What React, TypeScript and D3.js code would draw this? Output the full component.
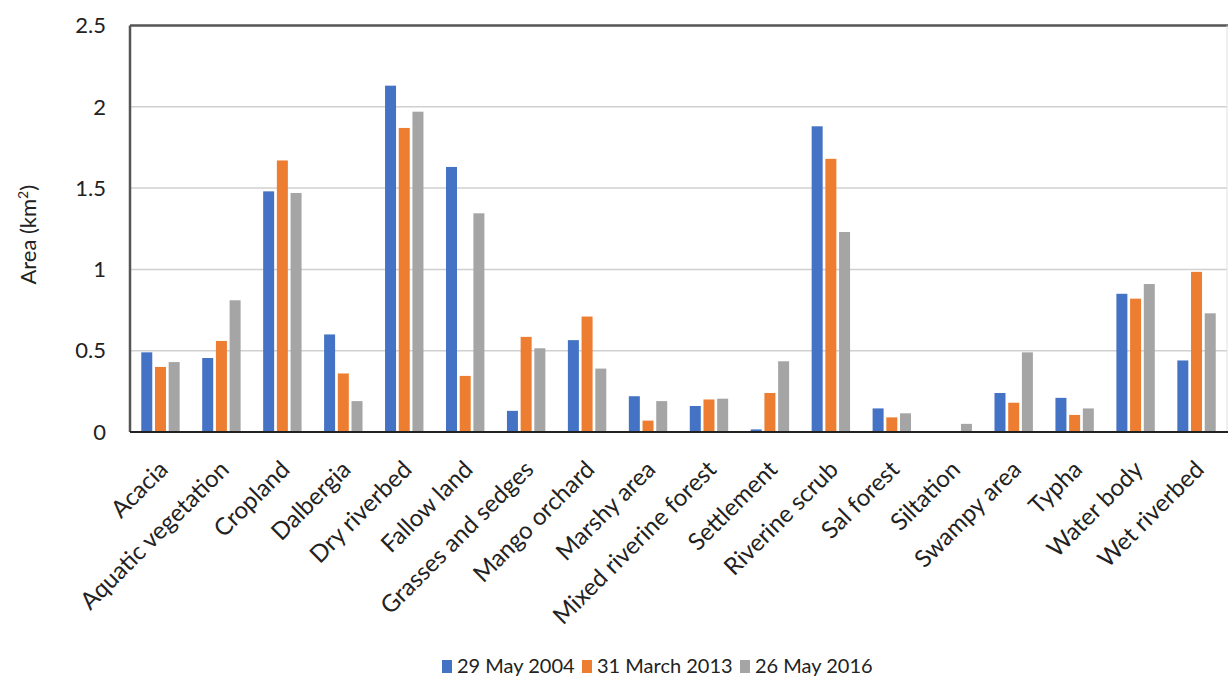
import React from "react";
import * as d3 from "d3";

const categories = [
  "Acacia", "Aquatic vegetation", "Cropland", "Dalbergia", "Dry riverbed",
  "Fallow land", "Grasses and sedges", "Mango orchard", "Marshy area",
  "Mixed riverine forest", "Settlement", "Riverine scrub", "Sal forest",
  "Siltation", "Swampy area", "Typha", "Water body", "Wet riverbed",
];
const seriesNames = ["29 May 2004", "31 March 2013", "26 May 2016"];
const may2004 = [0.49, 0.455, 1.48, 0.6, 2.13, 1.63, 0.13, 0.565, 0.22, 0.16, 0.016, 1.88, 0.145, 0, 0.24, 0.21, 0.85, 0.44];
const march2013 = [0.4, 0.56, 1.67, 0.36, 1.87, 0.345, 0.585, 0.71, 0.07, 0.2, 0.24, 1.68, 0.09, 0, 0.18, 0.105, 0.82, 0.985];
const may2016 = [0.43, 0.81, 1.47, 0.19, 1.97, 1.345, 0.515, 0.39, 0.19, 0.205, 0.435, 1.23, 0.115, 0.05, 0.49, 0.145, 0.91, 0.73];
const yTicks = [0, 0.5, 1, 1.5, 2, 2.5];
const colors = ["#4472C4", "#ED7D31", "#A5A5A5"];

const W = 1228;
const H = 689;
const FONT = "Lato, 'Open Sans', sans-serif";

export default function App() {
  const series = [may2004, march2013, may2016];
  const left = 130, right = 1227, top = 25.5, bottom = 432;
  const x = d3.scaleBand<string>().domain(categories).range([left, right]).paddingInner(0).paddingOuter(0);
  const y = d3.scaleLinear().domain([0, 2.5]).range([bottom, top]);
  const bw = x.bandwidth();
  const barW = 11;
  const step = 13.7;
  const groupOffset = bw / 2 - (step * 2 + barW) / 2;

  const legendItems = [
    { x: 442, label: seriesNames[0], color: colors[0] },
    { x: 582, label: seriesNames[1], color: colors[1] },
    { x: 740, label: seriesNames[2], color: colors[2] },
  ];

  return (
    <svg width={W} height={H} style={{ position: "absolute", left: 0, top: 0, background: "#fff" }} fontFamily={FONT}>
      <rect x={0} y={0} width={W} height={H} fill="#fff" />
      {/* gridlines */}
      {yTicks.filter((t) => t > 0 && t < 2.5).map((t) => (
        <line key={t} x1={left} x2={right} y1={y(t)} y2={y(t)} stroke="#d0d0d0" strokeWidth={1.5} />
      ))}
      {/* bars */}
      {series.map((vals, si) =>
        vals.map((v, i) => (
          <rect
            key={`${si}-${i}`}
            x={(x(categories[i]) as number) + groupOffset + si * step}
            y={y(v)}
            width={barW}
            height={bottom - y(v)}
            fill={colors[si]}
          />
        ))
      )}
      {/* frame */}
      <line x1={left} x2={W} y1={top} y2={top} stroke="#555" strokeWidth={2.5} />
      <line x1={left} x2={left} y1={top} y2={bottom} stroke="#555" strokeWidth={2.5} />
      <line x1={right} x2={right} y1={top} y2={bottom} stroke="#e0e0e0" strokeWidth={1} />
      <line x1={left} x2={W} y1={bottom} y2={bottom} stroke="#222" strokeWidth={2} />
      {/* y tick labels */}
      {yTicks.map((t) => (
        <text key={t} x={106} y={y(t)} dy="0.35em" textAnchor="end" fontSize={22} fill="#222">
          {String(t)}
        </text>
      ))}
      {/* y title */}
      <text transform={`translate(36, ${(top + bottom) / 2 + 6}) rotate(-90)`} textAnchor="middle" fontSize={22} fill="#222">
        Area (km<tspan dy="-8" fontSize={14}>2</tspan><tspan dy="8">)</tspan>
      </text>
      {/* x labels */}
      {categories.map((c) => {
        const cx = (x(c) as number) + bw / 2;
        return (
          <text
            key={c}
            transform={`translate(${cx + 3}, ${465}) rotate(-45)`}
            textAnchor="end"
            dy="0.35em"
            fontSize={24}
            fill="#222"
          >
            {c}
          </text>
        );
      })}
      {/* legend */}
      {legendItems.map((it) => (
        <g key={it.label}>
          <rect x={it.x} y={660} width={10} height={13} fill={it.color} />
          <text x={it.x + 15} y={666} dy="0.35em" fontSize={20} fill="#222">
            {it.label}
          </text>
        </g>
      ))}
    </svg>
  );
}
